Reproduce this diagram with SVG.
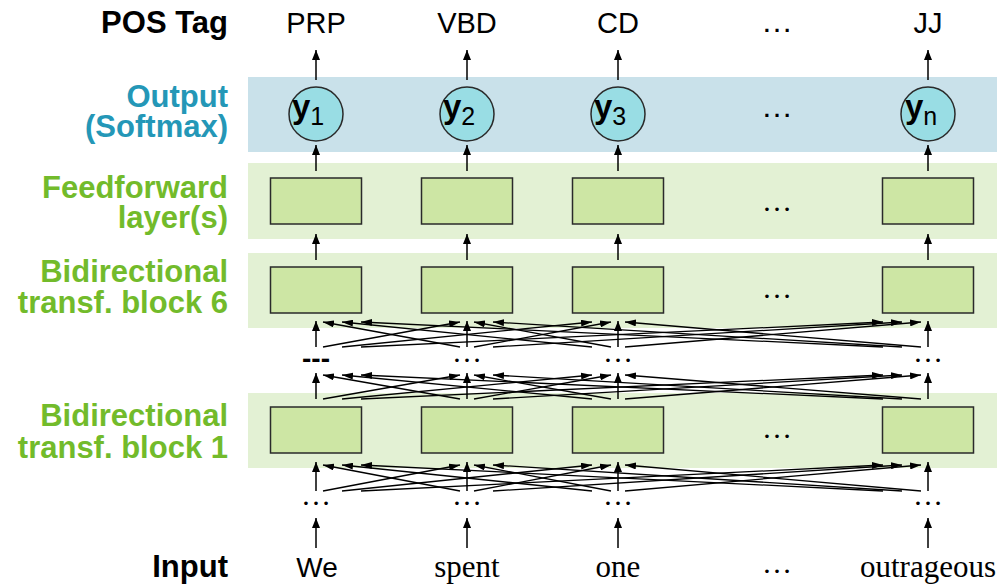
<svg xmlns="http://www.w3.org/2000/svg" width="1002" height="584" viewBox="0 0 1002 584">
  <style>
    .lab { font-family: "Liberation Sans", Arial, sans-serif; font-weight: bold; font-size: 31px; text-anchor: end; }
    .blk { fill: #000; }
    .blue { fill: #2497b7; }
    .green { fill: #72bb2b; }
    .tag { font-family: "Liberation Sans", Arial, sans-serif; font-size: 29px; text-anchor: middle; fill: #000; }
    .word { font-family: "Liberation Serif", "Times New Roman", serif; font-size: 31px; text-anchor: middle; fill: #000; }
    .dots { font-family: "Liberation Serif", "Times New Roman", serif; font-size: 30px; text-anchor: middle; fill: #000; }
    .sdots { font-family: "Liberation Sans", Arial, sans-serif; font-size: 32px; text-anchor: middle; fill: #000; }
    .band-out { fill: #c9e1ea; }
    .band-g { fill: #e3f1d4; }
    .box { fill: #cde6a4; stroke: #2a2a2a; stroke-width: 1.5; }
    .circ { fill: #99dde4; stroke: #2a2a2a; stroke-width: 1.5; }
    .ylab { font-family: "Liberation Sans", Arial, sans-serif; font-weight: bold; font-size: 33px; fill: #000; }
    .sub { font-weight: normal; font-size: 25px; }
    .up { stroke: #000; stroke-width: 1.5; fill: none; marker-end: url(#head); }
    .att { stroke: #000; stroke-width: 1.3; fill: none; marker-end: url(#headS); }
  </style>
  <defs>
    <marker id="head" markerUnits="userSpaceOnUse" markerWidth="10" markerHeight="8" refX="10" refY="4" orient="auto">
      <path d="M0,0 L10,4 L0,8 z" fill="#000"/>
    </marker>
    <marker id="headS" markerUnits="userSpaceOnUse" markerWidth="12" markerHeight="7" refX="11" refY="3.5" orient="auto">
      <path d="M0,0 L11,3.5 L0,7 z" fill="#000"/>
    </marker>
  </defs>

  <!-- layer bands -->
  <g id="bands">
    <rect class="band-out" x="248" y="77" width="749" height="75"/>
    <rect class="band-g" x="248" y="163" width="749" height="76"/>
    <rect class="band-g" x="248" y="253" width="749" height="75"/>
    <rect class="band-g" x="248" y="393" width="749" height="75"/>
  </g>

  <!-- row labels -->
  <g id="labels">
    <text class="lab blk" x="228" y="33">POS Tag</text>
    <text class="lab blue" x="228" y="107">Output</text>
    <text class="lab blue" x="228" y="137">(Softmax)</text>
    <text class="lab green" x="228" y="198">Feedforward</text>
    <text class="lab green" x="228" y="228">layer(s)</text>
    <text class="lab green" x="228" y="282">Bidirectional</text>
    <text class="lab green" x="228" y="313">transf. block 6</text>
    <text class="lab green" x="228" y="426">Bidirectional</text>
    <text class="lab green" x="228" y="458">transf. block 1</text>
    <text class="lab blk" x="228" y="577">Input</text>
  </g>

  <!-- POS tags -->
  <g id="tags">
    <text class="tag" x="316" y="33">PRP</text>
    <text class="tag" x="467" y="33">VBD</text>
    <text class="tag" x="618" y="33">CD</text>
    <text class="sdots" x="777" y="31.5">…</text>
    <text class="tag" x="928" y="33">JJ</text>
  </g>

  <!-- softmax outputs -->
  <g id="out1"><circle class="circ" cx="316" cy="114" r="27"/><text class="ylab" x="292" y="118">y<tspan class="sub" dy="7">1</tspan></text></g>
  <g id="out2"><circle class="circ" cx="467" cy="114" r="27"/><text class="ylab" x="443" y="118">y<tspan class="sub" dy="7">2</tspan></text></g>
  <g id="out3"><circle class="circ" cx="618" cy="114" r="27"/><text class="ylab" x="594" y="118">y<tspan class="sub" dy="7">3</tspan></text></g>
  <g id="outDots"><text class="sdots" x="777" y="116.5">…</text></g>
  <g id="outN"><circle class="circ" cx="928" cy="114" r="27"/><text class="ylab" x="905" y="118">y<tspan class="sub" dy="7">n</tspan></text></g>

  <!-- feedforward layer -->
  <g id="ff1"><rect class="box" x="270.5" y="178" width="91" height="46"/></g>
  <g id="ff2"><rect class="box" x="421.5" y="178" width="91" height="46"/></g>
  <g id="ff3"><rect class="box" x="572.5" y="178" width="91" height="46"/></g>
  <g id="ffDots"><text class="dots" x="777" y="210.5">…</text></g>
  <g id="ffN"><rect class="box" x="882.5" y="178" width="91" height="46"/></g>

  <!-- transformer block 6 -->
  <g id="b6c1"><rect class="box" x="270.5" y="267" width="91" height="46"/></g>
  <g id="b6c2"><rect class="box" x="421.5" y="267" width="91" height="46"/></g>
  <g id="b6c3"><rect class="box" x="572.5" y="267" width="91" height="46"/></g>
  <g id="b6Dots"><text class="dots" x="777" y="298">…</text></g>
  <g id="b6cN"><rect class="box" x="882.5" y="267" width="91" height="46"/></g>

  <!-- intermediate blocks -->
  <g id="mid">
    <text x="316" y="368" font-family="Liberation Sans, Arial, sans-serif" font-weight="bold" font-size="28" text-anchor="middle">---</text>
    <text class="dots" x="467" y="361.5">…</text>
    <text class="dots" x="618" y="361.5">…</text>
    <text class="dots" x="928" y="361.5">…</text>
  </g>

  <!-- transformer block 1 -->
  <g id="b1c1"><rect class="box" x="270.5" y="407" width="91" height="46"/></g>
  <g id="b1c2"><rect class="box" x="421.5" y="407" width="91" height="46"/></g>
  <g id="b1c3"><rect class="box" x="572.5" y="407" width="91" height="46"/></g>
  <g id="b1Dots"><text class="dots" x="777" y="438">…</text></g>
  <g id="b1cN"><rect class="box" x="882.5" y="407" width="91" height="46"/></g>

  <!-- input embeddings -->
  <g id="emb">
    <text class="dots" x="316" y="504.5">…</text>
    <text class="dots" x="467" y="504.5">…</text>
    <text class="dots" x="618" y="504.5">…</text>
    <text class="dots" x="928" y="504.5">…</text>
  </g>

  <!-- input words -->
  <g id="words">
    <text x="317" y="577" font-family="Liberation Sans, Arial, sans-serif" font-size="28" text-anchor="middle">We</text>
    <text class="word" x="467" y="577">spent</text>
    <text class="word" x="618" y="577">one</text>
    <text class="dots" x="777" y="573">…</text>
    <text class="word" x="928" y="577">outrageous</text>
  </g>

  <!-- connectors -->
  <g id="connectors">
    <!-- vertical flow per position -->
    <g id="vertical">
      <line class="up" x1="316" y1="80" x2="316" y2="50"/>
      <line class="up" x1="316" y1="171" x2="316" y2="145"/>
      <line class="up" x1="316" y1="260" x2="316" y2="234"/>
      <line class="up" x1="316" y1="347" x2="316" y2="321"/>
      <line class="up" x1="316" y1="399" x2="316" y2="373"/>
      <line class="up" x1="316" y1="491" x2="316" y2="462"/>
      <line class="up" x1="316" y1="548" x2="316" y2="518"/>

      <line class="up" x1="467" y1="80" x2="467" y2="50"/>
      <line class="up" x1="467" y1="171" x2="467" y2="145"/>
      <line class="up" x1="467" y1="260" x2="467" y2="234"/>
      <line class="up" x1="467" y1="347" x2="467" y2="321"/>
      <line class="up" x1="467" y1="399" x2="467" y2="373"/>
      <line class="up" x1="467" y1="491" x2="467" y2="462"/>
      <line class="up" x1="467" y1="548" x2="467" y2="518"/>

      <line class="up" x1="618" y1="80" x2="618" y2="50"/>
      <line class="up" x1="618" y1="171" x2="618" y2="145"/>
      <line class="up" x1="618" y1="260" x2="618" y2="234"/>
      <line class="up" x1="618" y1="347" x2="618" y2="321"/>
      <line class="up" x1="618" y1="399" x2="618" y2="373"/>
      <line class="up" x1="618" y1="491" x2="618" y2="462"/>
      <line class="up" x1="618" y1="548" x2="618" y2="518"/>

      <line class="up" x1="928" y1="80" x2="928" y2="50"/>
      <line class="up" x1="928" y1="171" x2="928" y2="145"/>
      <line class="up" x1="928" y1="260" x2="928" y2="234"/>
      <line class="up" x1="928" y1="347" x2="928" y2="321"/>
      <line class="up" x1="928" y1="399" x2="928" y2="373"/>
      <line class="up" x1="928" y1="491" x2="928" y2="462"/>
      <line class="up" x1="928" y1="548" x2="928" y2="518"/>
    </g>

    <!-- self-attention into block 6 -->
    <g id="att6">
      <line class="att" x1="323" y1="347" x2="460" y2="322"/>
      <line class="att" x1="342" y1="347" x2="592" y2="322"/>
      <line class="att" x1="361" y1="347" x2="883" y2="322"/>
      <line class="att" x1="460" y1="347" x2="323" y2="322"/>
      <line class="att" x1="474" y1="347" x2="611" y2="322"/>
      <line class="att" x1="493" y1="347" x2="902" y2="322"/>
      <line class="att" x1="592" y1="347" x2="342" y2="322"/>
      <line class="att" x1="611" y1="347" x2="474" y2="322"/>
      <line class="att" x1="625" y1="347" x2="921" y2="322"/>
      <line class="att" x1="883" y1="347" x2="361" y2="322"/>
      <line class="att" x1="902" y1="347" x2="493" y2="322"/>
      <line class="att" x1="921" y1="347" x2="625" y2="322"/>
    </g>
    <!-- self-attention into the intermediate blocks -->
    <g id="attMid">
      <line class="att" x1="323" y1="399" x2="460" y2="375"/>
      <line class="att" x1="342" y1="399" x2="592" y2="375"/>
      <line class="att" x1="361" y1="399" x2="883" y2="375"/>
      <line class="att" x1="460" y1="399" x2="323" y2="375"/>
      <line class="att" x1="474" y1="399" x2="611" y2="375"/>
      <line class="att" x1="493" y1="399" x2="902" y2="375"/>
      <line class="att" x1="592" y1="399" x2="342" y2="375"/>
      <line class="att" x1="611" y1="399" x2="474" y2="375"/>
      <line class="att" x1="625" y1="399" x2="921" y2="375"/>
      <line class="att" x1="883" y1="399" x2="361" y2="375"/>
      <line class="att" x1="902" y1="399" x2="493" y2="375"/>
      <line class="att" x1="921" y1="399" x2="625" y2="375"/>
    </g>
    <!-- self-attention into block 1 -->
    <g id="att1">
      <line class="att" x1="323" y1="491" x2="460" y2="465"/>
      <line class="att" x1="342" y1="491" x2="592" y2="465"/>
      <line class="att" x1="361" y1="491" x2="883" y2="465"/>
      <line class="att" x1="460" y1="491" x2="323" y2="465"/>
      <line class="att" x1="474" y1="491" x2="611" y2="465"/>
      <line class="att" x1="493" y1="491" x2="902" y2="465"/>
      <line class="att" x1="592" y1="491" x2="342" y2="465"/>
      <line class="att" x1="611" y1="491" x2="474" y2="465"/>
      <line class="att" x1="625" y1="491" x2="921" y2="465"/>
      <line class="att" x1="883" y1="491" x2="361" y2="465"/>
      <line class="att" x1="902" y1="491" x2="493" y2="465"/>
      <line class="att" x1="921" y1="491" x2="625" y2="465"/>
    </g>
  </g>
</svg>
